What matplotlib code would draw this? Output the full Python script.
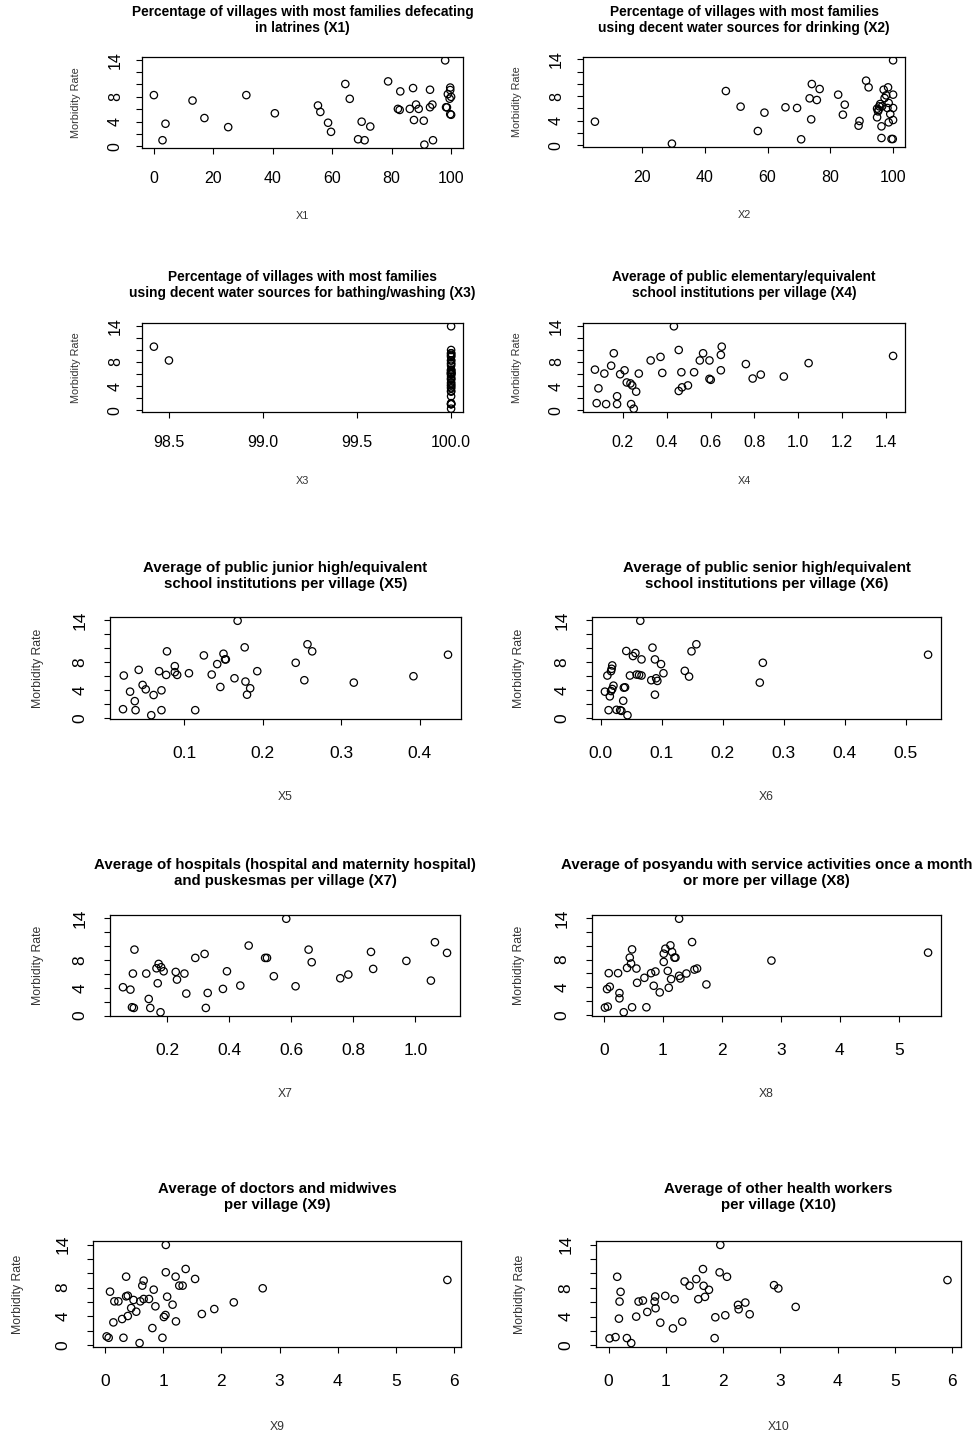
import matplotlib.pyplot as plt
import numpy as np

plt.rcParams['font.family'] = ['Liberation Sans', 'DejaVu Sans']

# values (morbidity rate vs X1..X10)
x1 = [0, 2.9, 3.9, 13, 17, 25, 31.1, 40.7, 55.2, 56, 58.6, 59.6, 64.4, 65.9, 68.7, 69.9, 70.9, 72.8,
      78.8, 82.1, 82.7, 82.9, 86.1, 87.2, 87.5, 88.2, 89.1, 90.8, 91, 92.9, 92.9, 93.7, 93.9, 98,
      98.3, 98.6, 98.9, 99.5, 99.7, 99.7, 99.7, 100, 100]
y1 = [8.28, 0.98, 3.65, 7.4, 4.57, 3.1, 8.28, 5.34, 6.6, 5.56, 3.81, 2.34, 10.08, 7.68, 1.14, 3.98,
      0.98, 3.2, 10.5, 6.05, 5.88, 8.88, 6.05, 9.42, 4.25, 6.75, 6.05, 4.14, 0.27, 9.15, 6.32, 6.75,
      0.98, 13.9, 6.32, 6.3, 8.44, 7.7, 9.5, 9.1, 5.2, 5.1, 8.0]

x2 = [4.96, 29.5, 46.7, 51.4, 56.9, 59.0, 65.7, 69.4, 70.7, 73.4, 73.9, 74.1, 75.7, 76.6, 82.5, 84.0,
      84.6, 89.0, 89.3, 91.4, 92.2, 94.9, 95.2, 95.6, 95.9, 96.3, 96.3, 97.0, 97.3, 97.8, 98.2, 98.4,
      98.6, 99.1, 99.5, 99.9, 100, 100, 100, 100, 94.9, 95.4, 96.5, 98.6]
y2 = [3.85, 0.27, 8.84, 6.3, 2.33, 5.32, 6.19, 6.08, 0.98, 7.65, 4.23, 9.98, 7.38, 9.17, 8.25, 4.99,
      6.62, 3.2, 3.96, 10.53, 9.44, 4.56, 5.53, 6.35, 6.73, 3.09, 1.19, 9.06, 7.7, 8.14, 6.08, 9.44,
      3.74, 5.1, 1.03, 1.03, 13.84, 8.25, 6.08, 4.12, 5.97, 5.8, 6.35, 6.9]

x3 = [98.42, 98.5, 100, 100, 100, 100, 100, 100, 100, 100, 100, 100, 100, 100, 100, 100, 100, 100,
      100, 100, 100, 100, 100, 100, 100, 100, 100, 100, 100, 100, 100, 100, 100, 100, 100, 100, 100,
      100, 100, 100, 100, 100]
y3 = [10.53, 8.25, 6.73, 1.19, 3.64, 6.08, 1.03, 7.38, 9.44, 2.33, 1.03, 5.97, 6.62, 4.61, 4.45, 1.03,
      4.12, 0.27, 3.09, 6.08, 8.84, 6.19, 13.9, 9.98, 3.2, 6.3, 3.8, 4.12, 6.3, 8.25, 9.44, 8.25, 5.21,
      5.05, 6.62, 9.17, 7.65, 5.26, 5.91, 5.59, 7.81, 9.0]

x4 = [0.073, 0.081, 0.089, 0.116, 0.124, 0.147, 0.159, 0.174, 0.174, 0.188, 0.208, 0.218, 0.235, 0.238,
      0.243, 0.250, 0.261, 0.273, 0.327, 0.372, 0.380, 0.433, 0.455, 0.455, 0.467, 0.470, 0.497, 0.525,
      0.551, 0.566, 0.595, 0.595, 0.601, 0.647, 0.647, 0.651, 0.761, 0.792, 0.829, 0.934, 1.047, 1.432]
y4 = [6.73, 1.19, 3.64, 6.08, 1.03, 7.38, 9.44, 2.33, 1.03, 5.97, 6.62, 4.61, 4.45, 1.03, 4.12, 0.27,
      3.09, 6.08, 8.25, 8.84, 6.19, 13.9, 9.98, 3.2, 6.3, 3.8, 4.12, 6.3, 8.25, 9.44, 8.25, 5.21, 5.05,
      6.62, 9.17, 10.53, 7.65, 5.26, 5.91, 5.59, 7.81, 9.0]

x5 = [0.022, 0.023, 0.031, 0.037, 0.038, 0.042, 0.047, 0.051, 0.058, 0.061, 0.068, 0.071, 0.071, 0.077,
      0.078, 0.088, 0.088, 0.091, 0.106, 0.114, 0.125, 0.135, 0.142, 0.146, 0.150, 0.152, 0.153, 0.164,
      0.168, 0.177, 0.178, 0.180, 0.184, 0.193, 0.242, 0.253, 0.257, 0.263, 0.316, 0.392, 0.436]
y5 = [1.29, 6.09, 3.79, 2.44, 1.15, 6.9, 4.75, 4.12, 0.43, 3.31, 6.71, 3.98, 1.15, 6.18, 9.54, 6.57,
      7.43, 6.18, 6.42, 1.15, 8.96, 6.23, 7.72, 4.46, 9.2, 8.39, 8.39, 5.7, 13.9, 10.11, 5.23, 3.36,
      4.27, 6.71, 7.91, 5.42, 10.55, 9.54, 5.08, 5.99, 9.06]

x6 = [0.007, 0.013, 0.011, 0.015, 0.017, 0.017, 0.018, 0.019, 0.021, 0.019, 0.026, 0.032, 0.034, 0.037,
      0.038, 0.040, 0.042, 0.044, 0.048, 0.053, 0.057, 0.059, 0.063, 0.065, 0.067, 0.067, 0.083, 0.085,
      0.089, 0.089, 0.091, 0.093, 0.099, 0.103, 0.138, 0.145, 0.149, 0.157, 0.261, 0.266, 0.537]
y6 = [3.79, 1.15, 6.09, 3.12, 3.88, 6.71, 7.05, 7.53, 4.65, 4.17, 1.2, 1.15, 1.05, 2.49, 4.36, 4.41,
      9.59, 0.43, 6.09, 8.87, 9.3, 6.23, 6.18, 13.9, 6.09, 8.39, 5.42, 10.07, 8.39, 3.36, 5.7, 5.32,
      7.72, 6.42, 6.76, 5.94, 9.54, 10.55, 5.08, 7.91, 9.06]

x7 = [0.058, 0.082, 0.087, 0.093, 0.090, 0.095, 0.133, 0.141, 0.146, 0.166, 0.170, 0.173, 0.179, 0.181,
      0.189, 0.228, 0.232, 0.256, 0.262, 0.291, 0.321, 0.325, 0.331, 0.380, 0.393, 0.436, 0.463, 0.516,
      0.522, 0.544, 0.584, 0.614, 0.656, 0.666, 0.758, 0.784, 0.857, 0.864, 0.971, 1.050, 1.063, 1.102]
y7 = [4.07, 3.73, 1.2, 1.1, 6.03, 9.47, 6.03, 2.39, 1.1, 6.79, 4.64, 7.42, 0.48, 6.94, 6.36, 6.27,
      5.17, 6.03, 3.16, 8.28, 8.85, 1.1, 3.25, 3.83, 6.36, 4.31, 10.05, 8.28, 8.28, 5.65, 13.9, 4.21,
      9.47, 7.66, 5.36, 5.89, 9.14, 6.7, 7.85, 5.02, 10.53, 9.0]

x8 = [0.02, 0.068, 0.056, 0.102, 0.085, 0.243, 0.266, 0.266, 0.339, 0.395, 0.441, 0.463, 0.48, 0.48,
      0.554, 0.565, 0.689, 0.723, 0.802, 0.847, 0.876, 0.949, 1.017, 1.017, 1.045, 1.085, 1.102, 1.13,
      1.158, 1.141, 1.198, 1.215, 1.277, 1.277, 1.299, 1.401, 1.497, 1.537, 1.582, 1.74, 2.842, 5.497]
y8 = [1.05, 1.2, 3.73, 4.07, 6.03, 6.03, 3.16, 2.39, 0.38, 6.79, 8.28, 7.42, 9.47, 1.1, 6.7, 4.64,
      5.36, 1.1, 6.03, 4.21, 6.27, 3.25, 7.66, 8.85, 9.57, 6.36, 3.92, 10.05, 9.09, 5.17, 8.28, 8.28,
      13.9, 5.65, 5.26, 5.98, 10.53, 6.55, 6.7, 4.4, 7.85, 9.0]

x9 = [0.029, 0.064, 0.087, 0.145, 0.162, 0.231, 0.295, 0.318, 0.364, 0.364, 0.393, 0.393, 0.451, 0.491,
      0.538, 0.595, 0.607, 0.642, 0.665, 0.665, 0.757, 0.815, 0.838, 0.867, 0.988, 1.012, 1.04, 1.046,
      1.046, 1.069, 1.162, 1.214, 1.22, 1.277, 1.335, 1.387, 1.549, 1.665, 1.879, 2.214, 2.711, 5.884]
y9 = [1.21, 1.02, 7.44, 3.16, 6.09, 6.09, 3.63, 1.02, 9.53, 6.79, 6.88, 4.05, 5.16, 6.28, 4.65, 0.28,
      6.09, 8.28, 6.42, 8.98, 6.42, 2.37, 7.72, 5.4, 1.02, 3.91, 4.19, 13.95, 10.14, 6.74, 5.63, 9.53,
      3.3, 8.28, 8.28, 10.6, 9.21, 4.33, 5.02, 5.95, 7.91, 9.07]

x10 = [0.017, 0.122, 0.151, 0.181, 0.192, 0.21, 0.32, 0.396, 0.483, 0.524, 0.6, 0.676, 0.804, 0.815,
       0.821, 0.903, 0.99, 1.124, 1.153, 1.287, 1.328, 1.415, 1.532, 1.567, 1.648, 1.66, 1.683, 1.753,
       1.852, 1.864, 1.951, 1.939, 2.038, 2.068, 2.26, 2.271, 2.388, 2.464, 2.889, 2.964, 3.267, 5.917]
y10 = [0.98, 1.16, 9.53, 3.72, 6.09, 7.44, 1.02, 0.33, 4.0, 6.09, 6.23, 4.65, 6.09, 6.79, 5.16, 3.16,
       6.88, 2.37, 6.42, 3.3, 8.88, 8.28, 9.21, 6.42, 10.6, 8.28, 6.74, 7.72, 1.02, 3.91, 13.95, 10.14,
       4.19, 9.53, 5.63, 5.02, 5.95, 4.33, 8.37, 7.91, 5.35, 9.07]

titles = [
    "Percentage of villages with most families defecating\nin latrines (X1)",
    "Percentage of villages with most families\nusing decent water sources for drinking (X2)",
    "Percentage of villages with most families\nusing decent water sources for bathing/washing (X3)",
    "Average of public elementary/equivalent\nschool institutions per village (X4)",
    "Average of public junior high/equivalent\nschool institutions per village (X5)",
    "Average of public senior high/equivalent\nschool institutions per village (X6)",
    "Average of hospitals (hospital and maternity hospital)\nand puskesmas per village (X7)",
    "Average of posyandu with service activities once a month\nor more per village (X8)",
    "Average of doctors and midwives\nper village (X9)",
    "Average of other health workers\nper village (X10)",
]
xnames = ["X1", "X2", "X3", "X4", "X5", "X6", "X7", "X8", "X9", "X10"]
xticks = [[0, 20, 40, 60, 80, 100], [20, 40, 60, 80, 100], [98.5, 99.0, 99.5, 100.0],
          [0.2, 0.4, 0.6, 0.8, 1.0, 1.2, 1.4], [0.1, 0.2, 0.3, 0.4], [0.0, 0.1, 0.2, 0.3, 0.4, 0.5],
          [0.2, 0.4, 0.6, 0.8, 1.0], [0, 1, 2, 3, 4, 5], [0, 1, 2, 3, 4, 5, 6], [0, 1, 2, 3, 4, 5, 6]]
xfmt = ["%d", "%d", "%.1f", "%.1f", "%.1f", "%.1f", "%.1f", "%d", "%d", "%d"]

xs = [x1, x2, x3, x4, x5, x6, x7, x8, x9, x10]
ys = [y1, y2, y3, y4, y5, y6, y7, y8, y9, y10]

# panel boxes in pixels: left, right, top, bottom
boxes = [(142, 463, 57, 148), (583, 905, 57, 147),
         (142, 463, 323, 412), (583, 905, 323, 412),
         (110, 461, 617, 719), (592, 941, 617, 719),
         (110, 460, 915, 1016), (592, 941, 915, 1016),
         (93, 461, 1241, 1347), (596, 961, 1241, 1347)]
title_off = [37, 37, 38, 38, 41, 41, 42, 42, 44, 44]
xlab_off = [68, 68, 69, 69, 78, 78, 78, 78, 80, 80]
ylab_off = [66, 66, 66, 66, 72, 73, 72, 73, 75, 76]

W, H = 974, 1436
fig = plt.figure(figsize=(W / 100, H / 100), dpi=100)


def pad_range(v):
    lo, hi = min(v), max(v)
    d = (hi - lo) * 0.04
    return lo - d, hi + d


for i in range(10):
    l, r, t, b = boxes[i]
    w, h = r - l, b - t
    ax = fig.add_axes([l / W, 1 - b / H, w / W, h / H])
    big = i >= 4
    tfs = 10.8 if big else 9.9
    kfs = 12.5 if big else 11.5
    lfs = 8.8 if big else 7.8
    xpad = 15 if big else 12
    ypad = 12 if big else 9.5

    ax.scatter(xs[i], ys[i], s=28, facecolors='none', edgecolors='black', linewidths=0.9)
    ax.set_xlim(*pad_range(xs[i]))
    ax.set_ylim(*pad_range(ys[i]))

    ax.set_xticks(xticks[i])
    ax.set_xticklabels([xfmt[i] % v for v in xticks[i]])
    ax.set_yticks([0, 2, 4, 6, 8, 10, 12, 14])
    ax.set_yticklabels(["0", "", "4", "", "8", "", "", "14"], rotation=90, va='center')
    ax.tick_params(direction='out', length=4.3, width=0.8, labelsize=kfs)
    ax.tick_params(axis='x', pad=xpad)
    ax.tick_params(axis='y', pad=ypad)
    for sp in ax.spines.values():
        sp.set_linewidth(0.9)

    ax.text(0.5, 1 + title_off[i] / h, titles[i], transform=ax.transAxes, ha='center', va='center',
            fontsize=tfs, fontweight='bold', linespacing=1.1)
    ax.text(0.5, -xlab_off[i] / h, xnames[i], transform=ax.transAxes, ha='center', va='center',
            fontsize=lfs, color='#333333')
    ax.text(-ylab_off[i] / w, 0.5, "Morbidity Rate", transform=ax.transAxes, ha='center',
            va='center', rotation=90, fontsize=lfs, color='#333333')

fig.savefig("out.png", dpi=100)
